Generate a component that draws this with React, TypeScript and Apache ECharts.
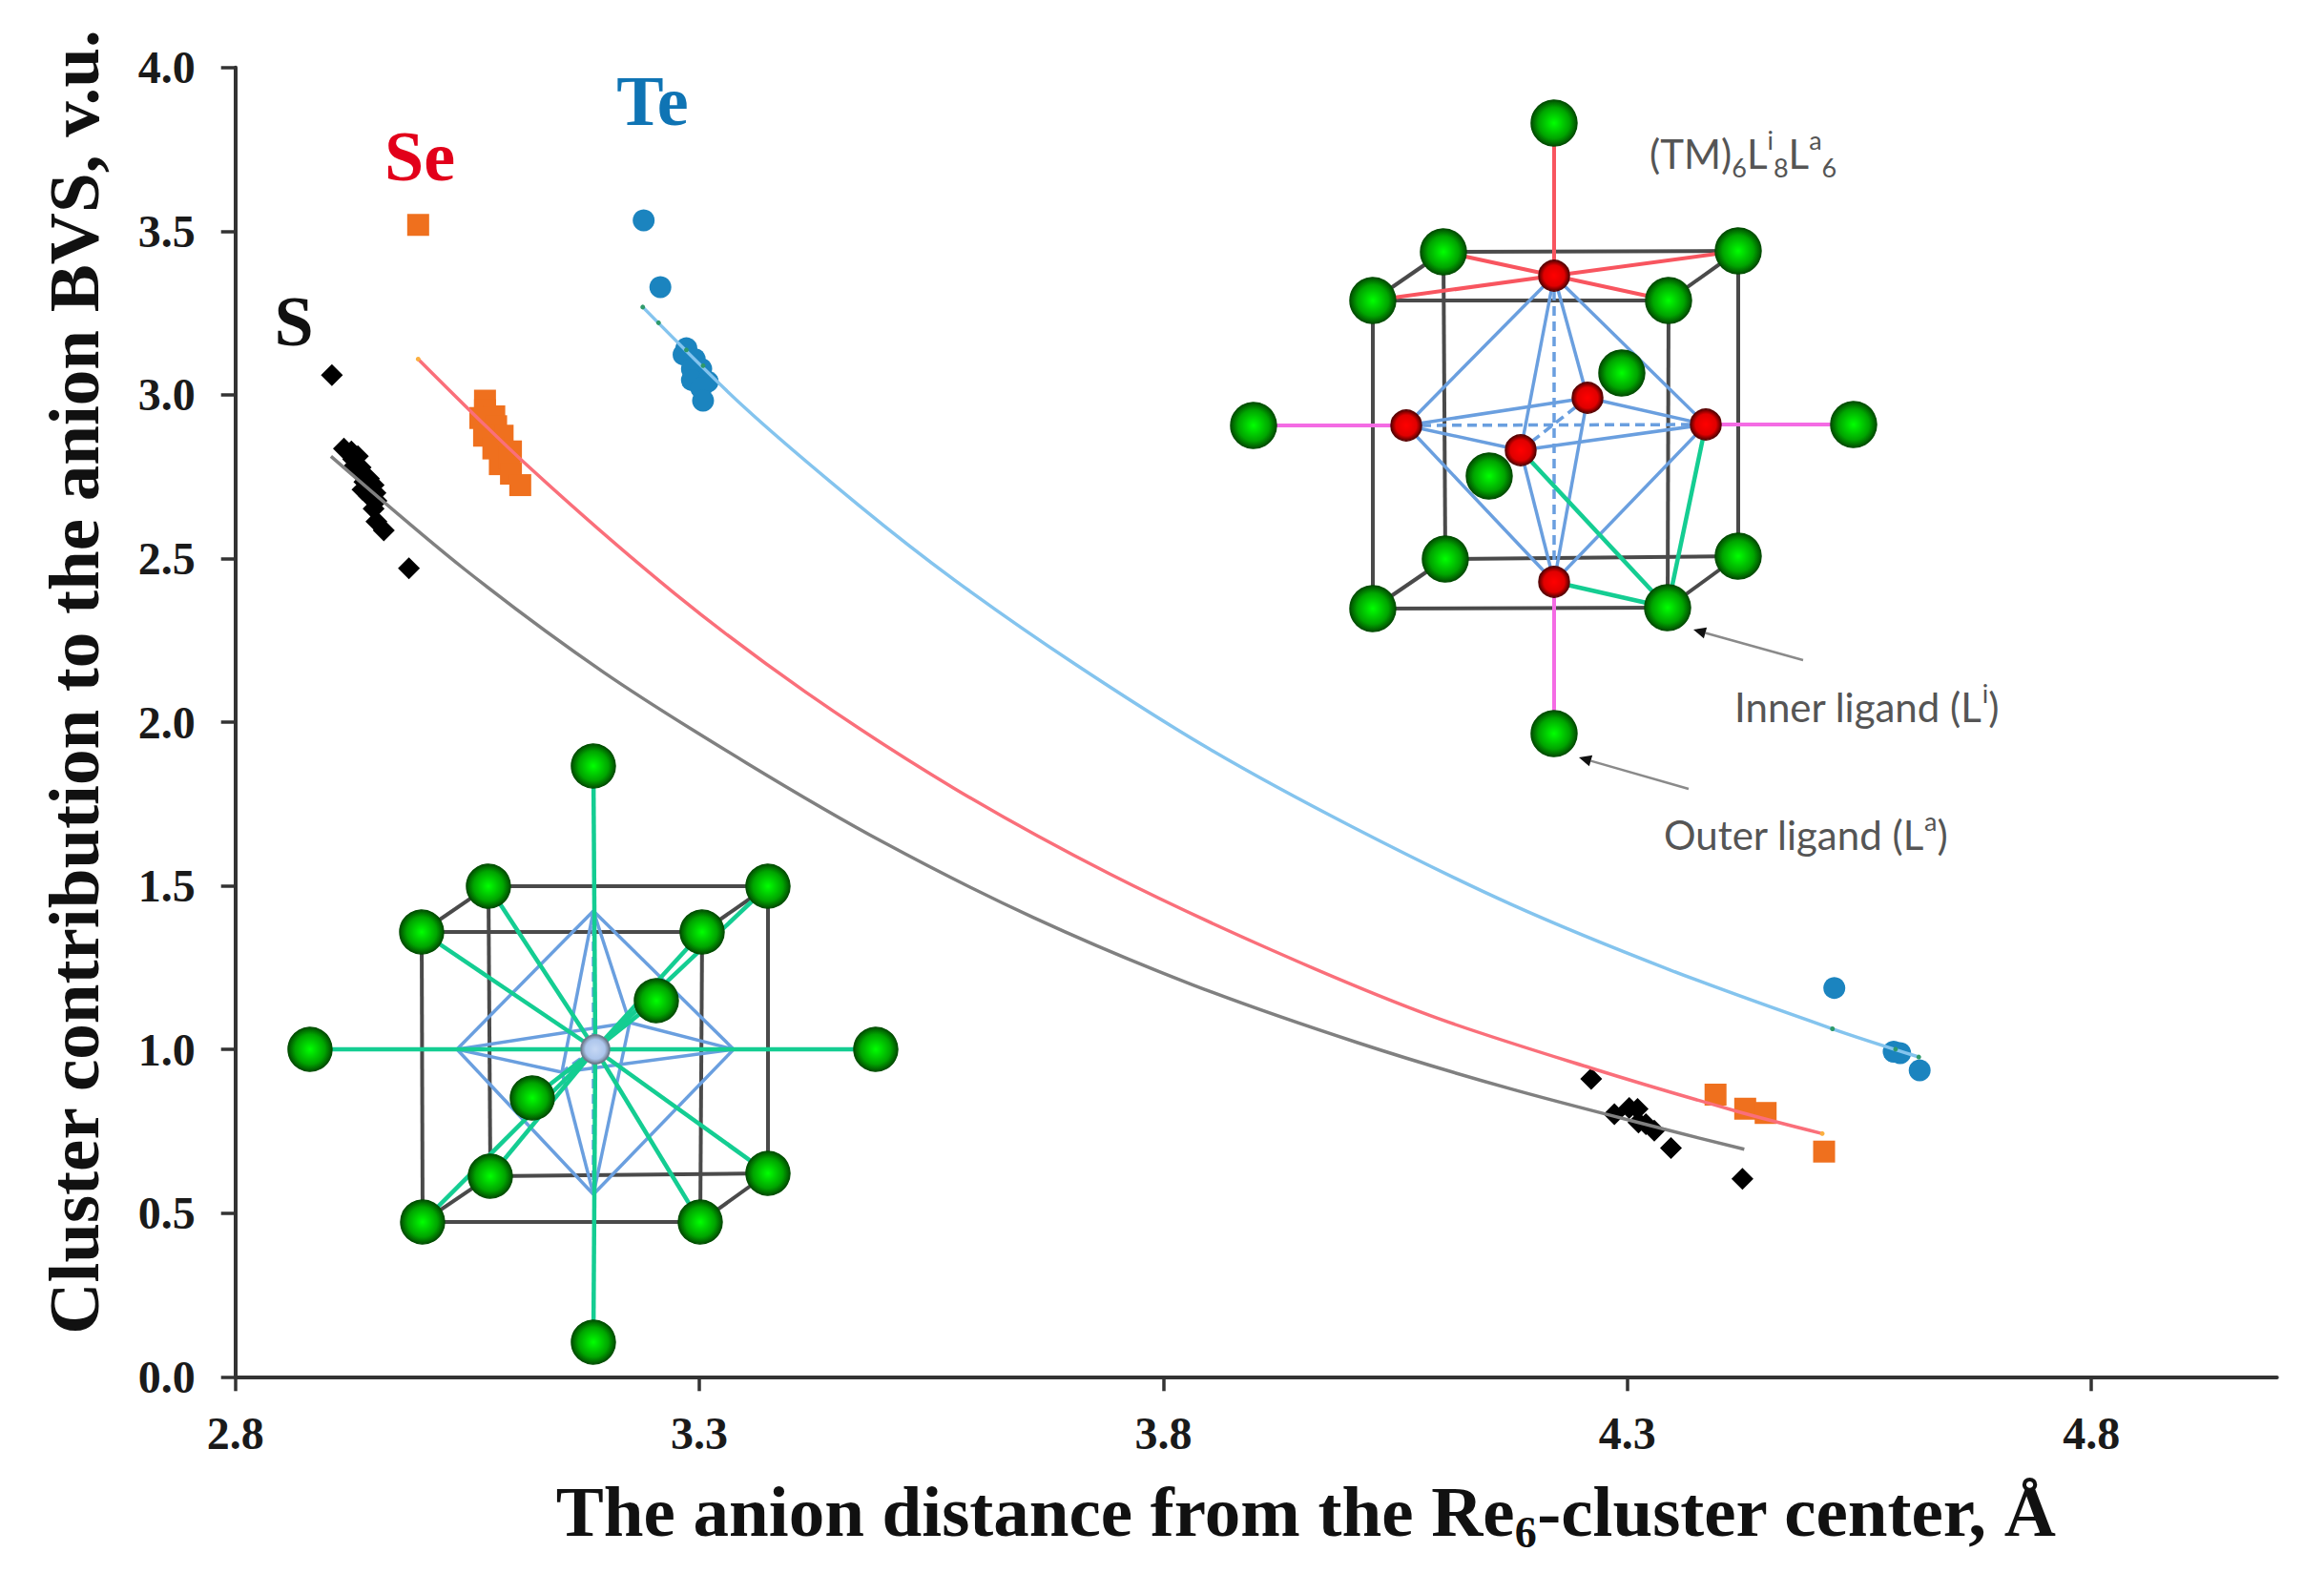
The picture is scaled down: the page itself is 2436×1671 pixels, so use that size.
import React, { useEffect, useRef } from "react";
import * as echarts from "echarts";

const xTicks = [2.8, 3.3, 3.8, 4.3, 4.8];

const sPoints = [
  [2.904, 3.06], [2.917, 2.836], [2.925, 2.827], [2.932, 2.812], [2.927, 2.803], [2.935, 2.778], [2.944, 2.744],
  [2.928, 2.782], [2.936, 2.757], [2.951, 2.7], [2.937, 2.71],
  [2.939, 2.734], [2.949, 2.724], [2.944, 2.691], [2.952, 2.676], [2.949, 2.652], [2.952, 2.613], [2.96, 2.586], [2.987, 2.47],
  [4.261, 0.91], [4.286, 0.802], [4.302, 0.821], [4.311, 0.818], [4.312, 0.777], [4.32, 0.772], [4.329, 0.752], [4.347, 0.699], [4.424, 0.605],
];
const sePoints = [
  [2.997, 3.519], [3.069, 2.982], [3.069, 2.953], [3.079, 2.934], [3.064, 2.929], [3.081, 2.904], [3.088, 2.875], [3.068, 2.875],
  [3.097, 2.827], [3.078, 2.836], [3.085, 2.788], [3.095, 2.807], [3.097, 2.759], [3.107, 2.724],
  [4.395, 0.862], [4.427, 0.819], [4.449, 0.806], [4.512, 0.688],
];
const tePoints = [
  [3.24, 3.533], [3.258, 3.329], [3.286, 3.142], [3.283, 3.123], [3.295, 3.109], [3.292, 3.079], [3.302, 3.079],
  [3.292, 3.045], [3.309, 3.04], [3.302, 3.021], [3.304, 2.982],
  [4.523, 1.188], [4.587, 0.993], [4.594, 0.989], [4.615, 0.936],
];

const sCurve = [
  [2.903, 2.812], [3.047, 2.467], [3.197, 2.152], [3.351, 1.875], [3.499, 1.632], [3.66, 1.403], [3.832, 1.197], [4.01, 1.02],
  [4.175, 0.879], [4.339, 0.757], [4.426, 0.695],
];
const seCurve = [
  [2.997, 3.109], [3.115, 2.783], [3.273, 2.394], [3.414, 2.093], [3.575, 1.797], [3.743, 1.535], [3.918, 1.302], [4.089, 1.102],
  [4.261, 0.943], [4.418, 0.811], [4.51, 0.743],
];
const teCurve = [
  [3.239, 3.268], [3.348, 2.963], [3.472, 2.662], [3.575, 2.434], [3.705, 2.177], [3.849, 1.919], [4.003, 1.681], [4.175, 1.443],
  [4.346, 1.243], [4.521, 1.063], [4.614, 0.977],
];
const teFitDots = [[3.239, 3.268], [3.256, 3.22], [3.286, 3.137], [3.304, 3.089], [4.521, 1.063], [4.589, 1.001], [4.614, 0.977]];
const seFitDots = [[2.997, 3.109], [4.51, 0.743]];

const yAxisTitle = "Cluster contribution to the anion BVS, v.u.";
const xAxisTitle = ["The anion distance from the Re", "6", "-cluster center, Å"];
const serif = "Liberation Serif";
const sans = "Lato";

// geometry of the two inset crystal diagrams (page pixels, not data)
const R = {
  top: [1629, 129], bottom: [1629, 769], left: [1314, 446], right: [1943, 445],
  btl: [1513, 264], btr: [1822, 263], ftl: [1439, 315], ftr: [1749, 315],
  bbl: [1515, 586], bbr: [1822, 583], fbl: [1439, 638], fbr: [1748, 637],
  backG: [1700, 391], frontG: [1561, 499],
  mT: [1629, 289], mB: [1629, 610], mL: [1474, 446], mR: [1788, 445], mBack: [1664, 417], mFront: [1594, 472],
};
const L = {
  top: [622, 803], bottom: [622, 1407], left: [325, 1100], right: [918, 1100],
  btl: [512, 929], btr: [805, 929], ftl: [442, 977], ftr: [736, 977],
  bbl: [514, 1233], bbr: [805, 1230], fbl: [443, 1281], fbr: [734, 1281],
  backG: [688, 1049], frontG: [558, 1151], c: [624, 1100],
  oT: [622, 955], oB: [622, 1252], oL: [479, 1100], oR: [769, 1100], oBack: [660, 1072], oFront: [589, 1124],
};

const cubeC = "#4a4a4a";
const blueC = "#6a9fdf";
const greenC = "#14cd92";
const redC = "#f8555f";
const magC = "#f46be4";

const seg = (a: number[], b: number[], stroke: string, lineWidth = 4, dash?: number[]) => ({
  type: "line",
  silent: true,
  shape: { x1: a[0], y1: a[1], x2: b[0], y2: b[1] },
  style: { stroke, lineWidth, lineDash: dash },
});

const ball = (p: number[], r: number, inner: string, mid: string, outer: string) => ({
  type: "circle",
  silent: true,
  shape: { cx: p[0], cy: p[1], r },
  style: {
    fill: new echarts.graphic.RadialGradient(0.5, 0.5, 0.5, [
      { offset: 0, color: inner },
      { offset: 0.68, color: mid },
      { offset: 1, color: outer },
    ]),
    stroke: outer,
    lineWidth: 1.5,
  },
});
const green = (p: number[], r: number) => ball(p, r, "#00ff00", "#00a400", "#014f01");
const red = (p: number[]) => ball(p, 16, "#ff0000", "#e00000", "#5a0000");

const cube = (g: any) => [
  seg(g.ftl, g.ftr, cubeC), seg(g.ftr, g.fbr, cubeC), seg(g.fbr, g.fbl, cubeC), seg(g.fbl, g.ftl, cubeC),
  seg(g.btl, g.btr, cubeC), seg(g.btr, g.bbr, cubeC), seg(g.bbr, g.bbl, cubeC), seg(g.bbl, g.btl, cubeC),
  seg(g.ftl, g.btl, cubeC), seg(g.ftr, g.btr, cubeC), seg(g.fbl, g.bbl, cubeC), seg(g.fbr, g.bbr, cubeC),
];

const octa = (t: number[], b: number[], l: number[], r: number[], k: number[], f: number[]) => [
  seg(t, l, blueC, 3.5), seg(t, r, blueC, 3.5), seg(t, k, blueC, 3.5), seg(t, f, blueC, 3.5),
  seg(b, l, blueC, 3.5), seg(b, r, blueC, 3.5), seg(b, k, blueC, 3.5), seg(b, f, blueC, 3.5),
  seg(l, k, blueC, 3.5), seg(k, r, blueC, 3.5), seg(r, f, blueC, 3.5), seg(f, l, blueC, 3.5),
  seg(t, b, blueC, 3.5, [10, 6]), seg(l, r, blueC, 3.5, [10, 6]), seg(k, f, blueC, 3.5, [10, 6]),
];

const arrow = (from: number[], to: number[]) => {
  const dx = to[0] - from[0];
  const dy = to[1] - from[1];
  const len = Math.hypot(dx, dy);
  const ux = dx / len;
  const uy = dy / len;
  const bx = to[0] - ux * 13;
  const by = to[1] - uy * 13;
  return [
    seg(from, [bx, by], "#8a8a8a", 2.5),
    {
      type: "polygon",
      silent: true,
      shape: { points: [to, [bx - uy * 6, by + ux * 6], [bx + uy * 6, by - ux * 6]] },
      style: { fill: "#111" },
    },
  ];
};

const label = (text: string, x: number, y: number, fill: string, fontSize: number) => ({
  type: "text",
  silent: true,
  x,
  y,
  style: { text, fill, fontFamily: serif, fontWeight: "bold", fontSize, align: "center", verticalAlign: "middle" },
});

const noteRich = {
  n: { fontFamily: sans, fontSize: 42, fill: "#555", lineHeight: 56 },
  u: { fontFamily: sans, fontSize: 27, fill: "#555", lineHeight: 34, verticalAlign: "top" },
  d: { fontFamily: sans, fontSize: 27, fill: "#555", lineHeight: 34, verticalAlign: "bottom" },
};
const note = (text: string, x: number, y: number) => ({
  type: "text",
  silent: true,
  x,
  y,
  style: { text, rich: noteRich, align: "left", verticalAlign: "middle" },
});

const rightDiagram = () => [
  ...cube(R),
  seg(R.top, R.mT, redC),
  seg(R.mT, R.btl, redC), seg(R.mT, R.btr, redC), seg(R.mT, R.ftl, redC), seg(R.mT, R.ftr, redC),
  seg(R.left, R.mL, magC), seg(R.right, R.mR, magC), seg(R.bottom, R.mB, magC),
  ...octa(R.mT, R.mB, R.mL, R.mR, R.mBack, R.mFront),
  seg(R.mFront, R.fbr, greenC, 4.5), seg(R.mR, R.fbr, greenC, 4.5), seg(R.mB, R.fbr, greenC, 4.5),
  ...[R.top, R.bottom, R.left, R.right, R.btl, R.btr, R.ftl, R.ftr, R.bbl, R.bbr, R.fbl, R.fbr, R.backG, R.frontG].map((p) => green(p, 24)),
  ...[R.mT, R.mB, R.mL, R.mR, R.mBack, R.mFront].map(red),
  ...arrow([1890, 692], [1775, 660]),
  ...arrow([1770, 827], [1655, 794]),
  note("{n|(TM)}{d|6}{n|L}{u|i}{d|8}{n|L}{u|a}{d|6}", 1729, 161),
  note("{n|Inner ligand (L}{u|i}{n|)}", 1818, 741),
  note("{n|Outer ligand (L}{u|a}{n|)}", 1744, 875),
];

const leftDiagram = () => [
  ...cube(L),
  ...octa(L.oT, L.oB, L.oL, L.oR, L.oBack, L.oFront),
  ...[L.top, L.bottom, L.left, L.right, L.btl, L.btr, L.ftl, L.ftr, L.bbl, L.bbr, L.fbl, L.fbr, L.backG, L.frontG].map((p) => seg(p, L.c, greenC, 4.5)),
  ...[L.top, L.bottom, L.left, L.right, L.btl, L.btr, L.ftl, L.ftr, L.bbl, L.bbr, L.fbl, L.fbr, L.backG, L.frontG].map((p) => green(p, 23)),
  ball(L.c, 15, "#c6d8f4", "#adc6ec", "#6d7a8c"),
];

export default function App() {
  const ref = useRef<HTMLDivElement>(null);
  useEffect(() => {
    document.body.style.margin = "0";
    const chart = echarts.init(ref.current!, undefined, { renderer: "svg" });
    chart.setOption({
      animation: false,
      backgroundColor: "#fff",
      grid: { left: 246.7, top: 70.7, width: 2140, height: 1372.6, containLabel: false },
      xAxis: {
        type: "value",
        min: 2.8,
        max: 5.0,
        splitLine: { show: false },
        axisLine: { onZero: false, lineStyle: { color: "#333", width: 4 } },
        axisTick: { customValues: xTicks, length: 15, lineStyle: { color: "#333", width: 3.5 } },
        axisLabel: {
          customValues: xTicks,
          margin: 35,
          color: "#1a1a1a",
          fontFamily: serif,
          fontWeight: "bold",
          fontSize: 48,
          formatter: (v: number) => v.toFixed(1),
        },
        name: `{a|${xAxisTitle[0]}}{s|${xAxisTitle[1]}}{a|${xAxisTitle[2]}}`,
        nameLocation: "middle",
        nameGap: 96,
        nameTextStyle: {
          padding: [0, 0, 0, 105],
          rich: {
            a: { fontFamily: serif, fontWeight: "bold", fontSize: 75, color: "#111", lineHeight: 90 },
            s: { fontFamily: serif, fontWeight: "bold", fontSize: 46, color: "#111", lineHeight: 52, verticalAlign: "bottom" },
          },
        },
      },
      yAxis: {
        type: "value",
        min: 0,
        max: 4,
        interval: 0.5,
        splitLine: { show: false },
        axisLine: { onZero: false, lineStyle: { color: "#333", width: 4 } },
        axisTick: { length: 15, lineStyle: { color: "#333", width: 3.5 } },
        axisLabel: {
          margin: 42,
          color: "#1a1a1a",
          fontFamily: serif,
          fontWeight: "bold",
          fontSize: 48,
          formatter: (v: number) => v.toFixed(1),
        },
        name: yAxisTitle,
        nameLocation: "middle",
        nameGap: 132,
        nameTextStyle: {
          padding: [0, 0, 0, 84],
          fontFamily: serif,
          fontWeight: "bold",
          fontSize: 75,
          color: "#111",
        },
      },
      series: [
        { type: "scatter", name: "S", data: sPoints, symbol: "diamond", symbolSize: 23, itemStyle: { color: "#000", opacity: 1 }, z: 3 },
        { type: "scatter", name: "Se", data: sePoints, symbol: "rect", symbolSize: 23, itemStyle: { color: "#ef701e", opacity: 1 }, z: 3 },
        { type: "scatter", name: "Te", data: tePoints, symbol: "circle", symbolSize: 23, itemStyle: { color: "#1b84bf", opacity: 1 }, z: 3 },
        { type: "line", name: "S fit", data: sCurve, smooth: 0.3, showSymbol: false, lineStyle: { color: "#808080", width: 3.5 }, z: 4 },
        { type: "line", name: "Se fit", data: seCurve, smooth: 0.3, showSymbol: false, lineStyle: { color: "#fa6f7a", width: 3.5 }, z: 4 },
        { type: "line", name: "Te fit", data: teCurve, smooth: 0.3, showSymbol: false, lineStyle: { color: "#84c4ee", width: 3.5 }, z: 4 },
        { type: "scatter", name: "Te fit dots", data: teFitDots, symbol: "circle", symbolSize: 5, itemStyle: { color: "#2f9a6a", opacity: 1 }, z: 5 },
        { type: "scatter", name: "Se fit dots", data: seFitDots, symbol: "circle", symbolSize: 5, itemStyle: { color: "#fbb040", opacity: 1 }, z: 5 },
      ],
      graphic: [
        ...rightDiagram(),
        ...leftDiagram(),
        label("S", 308, 337, "#111", 74),
        label("Se", 440, 164, "#e2001a", 74),
        label("Te", 684, 106, "#0f74b4", 74),
      ],
    });
    return () => chart.dispose();
  }, []);
  return <div ref={ref} style={{ width: 2436, height: 1671, overflow: "hidden" }} />;
}
